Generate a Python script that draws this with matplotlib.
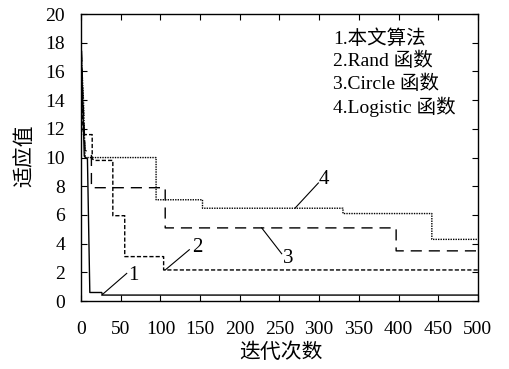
import matplotlib
matplotlib.use("Agg")
import matplotlib.pyplot as plt

plt.rcParams['font.family'] = ['Liberation Serif', 'Noto Sans CJK SC']
plt.rcParams['axes.unicode_minus'] = False

# Series data (iteration, fitness)
s1_x = [0, 2, 4, 8, 11, 26, 27, 500]
s1_y = [17.8, 14.0, 10.1, 9.9, 0.6, 0.6, 0.42, 0.42]

s2_x = [0, 2, 3, 14, 14, 18, 40, 40, 55, 55, 104, 104, 500]
s2_y = [16.0, 12.5, 11.6, 11.6, 9.9, 9.8, 9.8, 5.95, 5.95, 3.1, 3.1, 2.17, 2.17]

s3_x = [0, 2, 5, 13, 13, 106, 106, 397, 397, 500]
s3_y = [18.7, 14.5, 10.5, 10.3, 7.9, 7.9, 5.1, 5.1, 3.5, 3.5]

s4_x = [0, 3, 5, 94.5, 94.5, 153, 153, 330, 330, 442, 442, 500]
s4_y = [17.5, 14.0, 10.0, 10.0, 7.06, 7.06, 6.47, 6.47, 6.1, 6.1, 4.3, 4.3]

legend_lines = ["1.本文算法", "2.Rand 函数", "3.Circle 函数", "4.Logistic 函数"]
x_ticks = list(range(0, 501, 50))
y_ticks = list(range(0, 21, 2))

fig = plt.figure(figsize=(5.10, 3.69), dpi=100)
ax = fig.add_axes([0.159, 0.184, 0.778, 0.778])

ax.plot(s1_x, s1_y, color='black', lw=1.0, linestyle='-')
ax.plot(s2_x, s2_y, color='black', lw=1.0, linestyle=(0, (3, 1.5)))
ax.plot(s3_x, s3_y, color='black', lw=1.0, linestyle=(0, (8, 5)))
ax.plot(s4_x, s4_y, color='black', lw=1.0, linestyle=(0, (1, 0.8)))

ax.set_xlim(0, 500)
ax.set_ylim(0, 20)
ax.set_xticks(x_ticks)
ax.set_yticks(y_ticks)
ax.tick_params(direction='in', top=True, right=True, length=4, width=0.8,
               labelsize=14)
ax.tick_params(axis='x', pad=14)
ax.tick_params(axis='y', pad=11.5)
for sp in ax.spines.values():
    sp.set_linewidth(1.0)

fig.text(0.55, 0.043, "迭代次数", fontsize=15, ha='center', va='center')
fig.text(0.049, 0.579, "适应值", fontsize=15, ha='center', va='center',
         rotation=90)

# annotations
ann_kw = dict(color='black', lw=0.8)
ax.plot([26, 57.5], [0.42, 1.93], **ann_kw)
ax.text(59, 1.75, "1", fontsize=15, ha='left', va='center')
ax.plot([106, 136.4], [2.17, 3.58], **ann_kw)
ax.text(140, 3.75, "2", fontsize=15, ha='left', va='center')
ax.plot([227.6, 252.8], [5.1, 3.3], **ann_kw)
ax.text(254, 3.0, "3", fontsize=15, ha='left', va='center')
ax.plot([269.5, 299], [6.47, 8.23], **ann_kw)
ax.text(299.5, 8.5, "4", fontsize=15, ha='left', va='center')

for i, t in enumerate(legend_lines):
    ax.text(0.636, 0.915 - i * 0.0795, t, transform=ax.transAxes,
            fontsize=14, ha='left', va='center')

fig.savefig("out.png", dpi=100)
